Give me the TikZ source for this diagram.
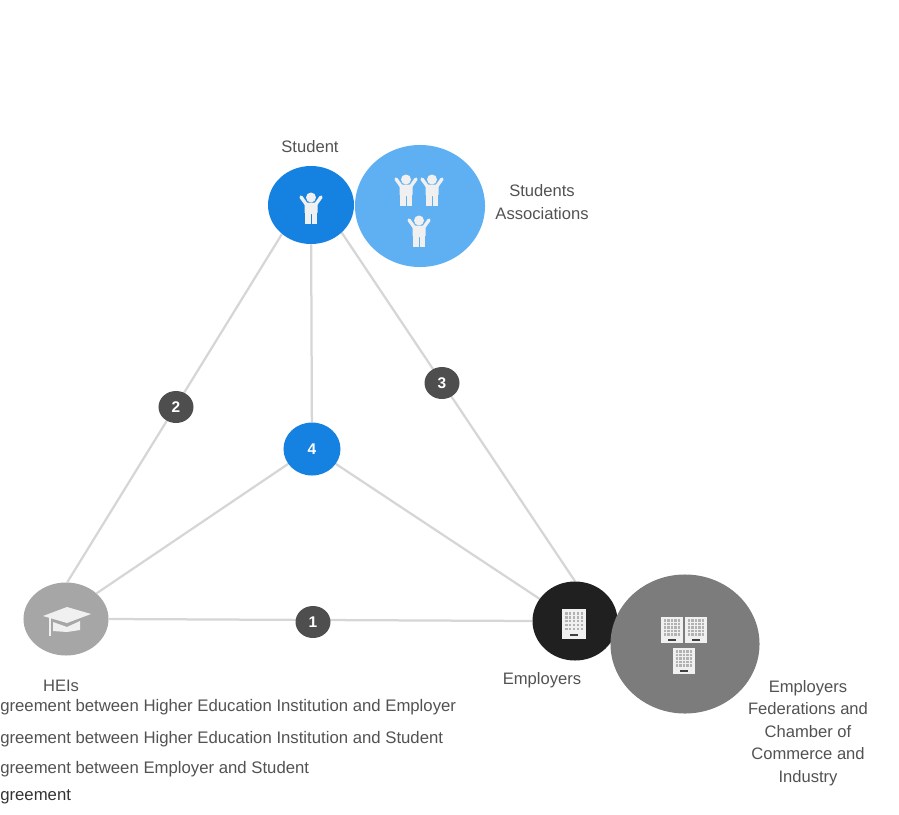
\documentclass[tikz,border=0pt]{standalone}
\usepackage{fontspec}
\setmainfont{Liberation Sans}
\usepackage{xcolor}
\usetikzlibrary{shapes.geometric,backgrounds}
\definecolor{hublue}{RGB}{21,130,226}
\definecolor{hulightblue}{RGB}{95,176,242}
\definecolor{hugrey}{RGB}{166,166,166}
\definecolor{hudark}{RGB}{32,32,32}
\definecolor{humid}{RGB}{124,124,124}
\definecolor{hubadge}{RGB}{78,78,78}
\definecolor{huline}{RGB}{214,214,214}
\definecolor{hutext}{RGB}{82,82,82}
\definecolor{huicon}{RGB}{240,240,240}
\tikzstyle{party} = [ellipse, inner sep=0pt, text=white]
\tikzstyle{badge} = [ellipse, inner sep=0pt, minimum width=0.875cm, minimum height=0.8cm, fill=hubadge, text=white, font=\fontsize{11}{13}\selectfont\bfseries]
\tikzstyle{link} = [color=huline, line width=1.6pt]
\tikzstyle{caption} = [inner sep=0pt, text=hutext, align=center, font=\fontsize{11.8}{16}\selectfont]
\tikzstyle{legend} = [inner sep=0pt, anchor=base west, text=hutext, font=\fontsize{11.9}{16}\selectfont]
\tikzset{
  person/.pic={
    \fill[huicon] (0,-10.5) circle[radius=5];
    \fill[huicon, rounded corners=1pt] (-6.5,-5.5) rectangle (6.5,6);
    \fill[huicon] (-6,4) rectangle (-0.5,16);
    \fill[huicon] (0.5,4) rectangle (6,16);
    \draw[huicon, line width=2.4pt, line cap=round] (-5,-4) -- (-10,-11);
    \draw[huicon, line width=2.4pt, line cap=round] (5,-4) -- (10,-11);
  },
  office/.pic={
    \fill[huicon] (-11,-13) rectangle (11,13);
    \foreach \col in {-7,-3.5,0,3.5,7}
      \foreach \row in {-9.5,-6,-2.5,1,4.5}
        \fill[gray!60] (\col-1.2,\row-1.1) rectangle (\col+1.2,\row+1.1);
    \fill[black!75] (-4,8.5) rectangle (4,11);
  }
}
\begin{document}
\begin{tikzpicture}[x=0.025cm, y=-0.025cm]
\useasboundingbox (0,0) rectangle (899,814);
\node (student) [party, fill=hublue, minimum width=2.15cm, minimum height=1.95cm] at (311,205) {};
\node (assoc) [party, fill=hulightblue, minimum width=3.25cm, minimum height=3.05cm] at (420,206) {};
\node (hei) [party, fill=hugrey, minimum width=2.125cm, minimum height=1.825cm] at (66,619) {};
\node (employers) [party, fill=hudark, minimum width=2.125cm, minimum height=1.975cm] at (575,621) {};
\node (federation) [party, fill=humid, minimum width=3.725cm, minimum height=3.475cm] at (685,644) {};
\node (four) [party, fill=hublue, minimum width=1.425cm, minimum height=1.325cm, font=\fontsize{11}{13}\selectfont\bfseries] at (312,449) {4};
\node (one) [badge] at (313,622) {1};
\node (two) [badge] at (176,407) {2};
\node (three) [badge] at (442,383) {3};
\begin{scope}[on background layer]
\draw [link] (student.225) -- (hei.88);
\draw [link] (student.318) -- (employers.90);
\draw [link] (student) -- (four);
\draw [link] (four.212) -- (hei.40);
\draw [link] (four.328) -- (employers.148);
\draw [link] (hei.east) -- (employers.west);
\end{scope}
% icons
\pic at (311,208) {person};
\pic at (406,190) {person};
\pic at (432,190) {person};
\pic at (419,231) {person};
\pic [scale=1.12] at (574,624) {office};
\pic at (672,630) {office};
\pic at (696,630) {office};
\pic at (684,661) {office};
\fill[huicon] (43,616) -- (67,607) -- (91,614) -- (67,623) -- cycle;
\fill[huicon] (53,622) -- (67,627) -- (80,621) -- (80,630) -- (67,632) -- (53,631) -- cycle;
\draw[huicon, line width=1.5pt] (50,618) -- (50,636);
% labels
\node (studentlabel) [caption] at (310,147) {Student};
\node (assoclabel) [caption] at (542,202) {Students\\Associations};
\node (heilabel) [caption] at (61,686) {HEIs};
\node (employerslabel) [caption] at (542,680) {Employers};
\node (fedlabel) [caption] at (808,733) {Employers\\Federations and\\Chamber of\\Commerce and\\Industry};
\node (agreea) [legend] at (0,711) {greement between Higher Education Institution and Employer};
\node (agreeb) [legend] at (0,743) {greement between Higher Education Institution and Student};
\node (agreec) [legend] at (0,773) {greement between Employer and Student};
\node (agreed) [legend, text=black!80] at (0,800) {greement};
\end{tikzpicture}
\end{document}
